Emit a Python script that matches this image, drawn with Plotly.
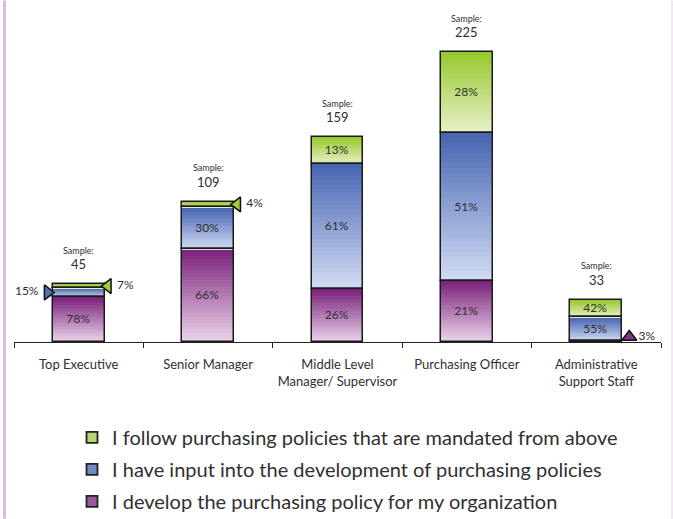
import plotly.graph_objects as go

# ---------------- data ----------------
categories = ["Top Executive", "Senior Manager", "Middle Level<br>Manager/ Supervisor",
              "Purchasing Officer", "Administrative<br>Support Staff"]
samples = [45, 109, 159, 225, 33]
pct_develop = [78, 66, 26, 21, 3]
pct_input = [15, 30, 61, 51, 55]
pct_follow = [7, 4, 13, 28, 42]
series_names = ["I develop the purchasing policy for my organization",
                "I have input into the development of purchasing policies",
                "I follow purchasing policies that are mandated from above"]

# ---------------- style ----------------
FONT = "Lato"
TXT = "#303030"
WT = 400
grad = [((122, 32, 122), (236, 214, 236)),   # purple
        ((70, 100, 176), (210, 220, 243)),   # blue
        ((150, 200, 45), (234, 241, 202))]   # green
solid = ["#9a5a9b", "#7088c4", "#b5d66a"]
N = 30
W = 0.4

pcts = [pct_develop, pct_input, pct_follow]
counts = [[s * p / 100 for s, p in zip(samples, pc)] for pc in pcts]
bases = []
run = [0.0] * len(samples)
for c in counts:
    bases.append(run[:])
    run = [r + v for r, v in zip(run, c)]

xs = list(range(len(categories)))
callouts = {(1, 0): "left", (2, 0): "right", (2, 1): "right", (0, 4): "up"}

fig = go.Figure()

def mix(a, b, t):
    return "rgb(%d,%d,%d)" % tuple(round(a[k] + (b[k] - a[k]) * t) for k in range(3))

# gradient slices
for s in range(3):
    top, bot = grad[s]
    for i in range(N):
        t = (i + 0.5) / N
        fig.add_trace(go.Bar(
            x=xs, y=[h / N * 1.02 for h in counts[s]],
            base=[b + h * i / N for b, h in zip(bases[s], counts[s])],
            width=W, marker=dict(color=mix(bot, top, t), line=dict(width=0)),
            showlegend=False, hoverinfo="skip"))

# outlines + inside labels
for s in range(3):
    txt = ["" if (s, c) in callouts else f"{pcts[s][c]}%" for c in xs]
    fig.add_trace(go.Bar(
        x=xs, y=counts[s], base=bases[s], width=W,
        marker=dict(color="rgba(0,0,0,0)", line=dict(color="#1a1a1a", width=1.5)),
        text=txt, textposition="inside", insidetextanchor="middle",
        textangle=0, constraintext="none",
        textfont=dict(family=FONT, size=12, color=TXT, weight=WT),
        showlegend=False, hoverinfo="skip"))

# callouts (triangles)
PPU = 1.29
for (s, c), side in callouts.items():
    ymid = bases[s][c] + counts[s][c] / 2
    if side == "left":
        x, sym, tp, y = c - 0.24, "triangle-right", "middle left", ymid
    elif side == "right":
        x, sym, tp, y = c + 0.225, "triangle-left", "middle right", ymid
    else:
        x, sym, tp, y = c + 0.255, "triangle-up", "middle right", bases[s][c] + 5 / PPU
    fig.add_trace(go.Scatter(
        x=[x], y=[y], mode="markers+text", text=[f"{pcts[s][c]}%"], textposition=tp,
        marker=dict(symbol=sym, size=13, color=mix(grad[s][0], grad[s][1], 0.1),
                    line=dict(color="#111", width=1.5)),
        textfont=dict(family=FONT, size=12, color=TXT, weight=WT), cliponaxis=False,
        showlegend=False, hoverinfo="skip"))

# legend entries
for s in [2, 1, 0]:
    fig.add_trace(go.Scatter(
        x=[None], y=[None], mode="markers", name=series_names[s], legendgroup=str(s),
        marker=dict(symbol="square", size=11, color=solid[s], line=dict(color="#222", width=1.8))))

# sample annotations
totals = [sum(counts[s][c] for s in range(3)) for c in xs]
for c in xs:
    fig.add_annotation(x=c, y=totals[c], text=str(samples[c]), showarrow=False,
                       yanchor="middle", yshift=20,
                       font=dict(family=FONT, size=13, color=TXT, weight=WT))
    fig.add_annotation(x=c, y=totals[c], text="Sample:", showarrow=False,
                       yanchor="middle", yshift=34,
                       font=dict(family=FONT, size=9, color=TXT, weight=WT))

TOP = 19.5
H = 342 - TOP
L, R = 14, 12
fig.update_layout(
    width=673, height=519, barmode="overlay", bargap=0,
    paper_bgcolor="white", plot_bgcolor="white",
    margin=dict(l=L, r=R, t=TOP, b=519 - 342, autoexpand=False),
    font=dict(family=FONT, color=TXT),
    xaxis=dict(range=[-0.5, 4.5], tickvals=xs, ticktext=categories, ticks="",
               showline=True, linecolor="#222", linewidth=1, showgrid=False, zeroline=False,
               tickfont=dict(family=FONT, size=13, color=TXT, weight=WT), ticklabelstandoff=10,
               minor=dict(tickvals=[-0.5, 0.5, 1.5, 2.5, 3.5, 4.5], ticks="outside",
                          ticklen=5, tickcolor="#222", tickwidth=1, showgrid=False)),
    yaxis=dict(range=[0, H / PPU], visible=False, showgrid=False, zeroline=False),
    legend=dict(x=(72 - L) / 647, xanchor="left", y=(342 - 418) / H, yanchor="top",
                traceorder="grouped", tracegroupgap=3,
                font=dict(family=FONT, size=20, color=TXT, weight=WT), bgcolor="rgba(0,0,0,0)"),
    shapes=[
        dict(type="rect", xref="paper", yref="paper", x0=(3 - L) / 647, x1=(6 - L) / 647,
             y0=(342 - 519) / H, y1=342 / H, fillcolor="#d8bde0", line=dict(width=0), layer="below"),
        dict(type="line", xref="paper", yref="paper", x0=(672 - L) / 647, x1=(672 - L) / 647,
             y0=(342 - 519) / H, y1=342 / H, line=dict(color="#e2cfe6", width=1)),
    ],
)

fig.write_html("out.html", config={"displayModeBar": False},
               post_script="document.body.style.margin='0';")
